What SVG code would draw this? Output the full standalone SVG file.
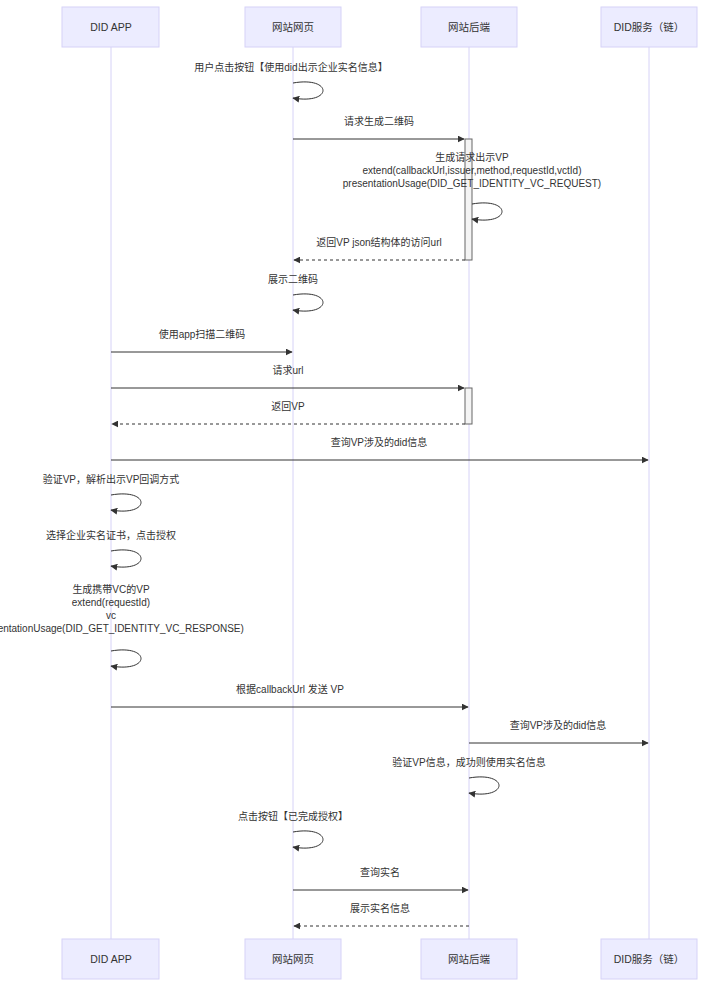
<svg xmlns="http://www.w3.org/2000/svg" width="728" height="988" viewBox="0 0 728 988">
<style>
.box{fill:#ececff;stroke:#d6d2f7;stroke-width:1}
.life{stroke:#d6d2f7;stroke-width:1}
.pt{font-family:"Liberation Sans","Noto Sans CJK SC",sans-serif;font-size:10.5px;fill:#333;text-anchor:middle}
.mt{font-family:"Liberation Sans","Noto Sans CJK SC",sans-serif;font-size:10px;fill:#333;text-anchor:middle}
.m{stroke:#333;stroke-width:1;fill:none}
.d{stroke-dasharray:3,3}
.act{fill:#f4f4f4;stroke:#666;stroke-width:1}
</style>
<defs>
<marker id="a" viewBox="0 0 10 10" refX="9" refY="5" markerWidth="7" markerHeight="7" orient="auto-start-reverse"><path d="M0,0 L10,5 L0,10 z" fill="#333"/></marker>
</defs>
<rect width="728" height="988" fill="#fff"/>
<g id="lifelines">
<line class="life" x1="111" y1="47" x2="111" y2="939"/>
<line class="life" x1="293" y1="47" x2="293" y2="939"/>
<line class="life" x1="469" y1="47" x2="469" y2="939"/>
<line class="life" x1="649" y1="47" x2="649" y2="939"/>
</g>
<g id="p-app"><rect class="box" x="62" y="7" width="97" height="40"/><text class="pt" x="111" y="31">DID APP</text>
<rect class="box" x="62" y="939" width="97" height="40"/><text class="pt" x="111" y="963">DID APP</text></g>
<g id="p-web"><rect class="box" x="245" y="7" width="96" height="40"/><text class="pt" x="293" y="31">网站网页</text>
<rect class="box" x="245" y="939" width="96" height="40"/><text class="pt" x="293" y="963">网站网页</text></g>
<g id="p-back"><rect class="box" x="421" y="7" width="96" height="40"/><text class="pt" x="469" y="31">网站后端</text>
<rect class="box" x="421" y="939" width="96" height="40"/><text class="pt" x="469" y="963">网站后端</text></g>
<g id="p-did"><rect class="box" x="601" y="7" width="96" height="40"/><text class="pt" x="649" y="31">DID服务（链）</text>
<rect class="box" x="601" y="939" width="96" height="40"/><text class="pt" x="649" y="963">DID服务（链）</text></g>
<g id="activations">
<rect class="act" x="465" y="139" width="7" height="121"/>
<rect class="act" x="465" y="388" width="7" height="36"/>
</g>
<g id="connectors">
<text class="mt" x="291" y="71">用户点击按钮【使用did出示企业实名信息】</text>
<path class="m" d="M293,83 C333,76 333,105 293,98" marker-end="url(#a)"/>
<text class="mt" x="379" y="125">请求生成二维码</text>
<line class="m" x1="293" y1="139" x2="464" y2="139" marker-end="url(#a)"/>
<text class="mt" x="472" y="161">生成请求出示VP</text>
<text class="mt" x="472" y="174">extend(callbackUrl,issuer,method,requestId,vctId)</text>
<text class="mt" x="472" y="187">presentationUsage(DID_GET_IDENTITY_VC_REQUEST)</text>
<path class="m" d="M472,204 C512,197 512,226 472,219" marker-end="url(#a)"/>
<text class="mt" x="379" y="246">返回VP json结构体的访问url</text>
<line class="m d" x1="465" y1="260" x2="294" y2="260" marker-end="url(#a)"/>
<text class="mt" x="293" y="283">展示二维码</text>
<path class="m" d="M293,295 C333,288 333,317 293,310" marker-end="url(#a)"/>
<text class="mt" x="202" y="338">使用app扫描二维码</text>
<line class="m" x1="111" y1="352" x2="292" y2="352" marker-end="url(#a)"/>
<text class="mt" x="288" y="374">请求url</text>
<line class="m" x1="111" y1="388" x2="464" y2="388" marker-end="url(#a)"/>
<text class="mt" x="288" y="410">返回VP</text>
<line class="m d" x1="465" y1="424" x2="112" y2="424" marker-end="url(#a)"/>
<text class="mt" x="379" y="446">查询VP涉及的did信息</text>
<line class="m" x1="111" y1="460" x2="648" y2="460" marker-end="url(#a)"/>
<text class="mt" x="111" y="483">验证VP，解析出示VP回调方式</text>
<path class="m" d="M111,495 C151,488 151,517 111,510" marker-end="url(#a)"/>
<text class="mt" x="111" y="539">选择企业实名证书，点击授权</text>
<path class="m" d="M111,551 C151,544 151,573 111,566" marker-end="url(#a)"/>
<text class="mt" x="111" y="593">生成携带VC的VP</text>
<text class="mt" x="111" y="606">extend(requestId)</text>
<text class="mt" x="111" y="619">vc</text>
<text class="mt" x="111" y="632">presentationUsage(DID_GET_IDENTITY_VC_RESPONSE)</text>
<path class="m" d="M111,651 C151,644 151,673 111,666" marker-end="url(#a)"/>
<text class="mt" x="290" y="693">根据callbackUrl 发送 VP</text>
<line class="m" x1="111" y1="707" x2="468" y2="707" marker-end="url(#a)"/>
<text class="mt" x="558" y="729">查询VP涉及的did信息</text>
<line class="m" x1="469" y1="743" x2="648" y2="743" marker-end="url(#a)"/>
<text class="mt" x="469" y="766">验证VP信息，成功则使用实名信息</text>
<path class="m" d="M469,778 C509,771 509,800 469,793" marker-end="url(#a)"/>
<text class="mt" x="293" y="820">点击按钮【已完成授权】</text>
<path class="m" d="M293,832 C333,825 333,854 293,847" marker-end="url(#a)"/>
<text class="mt" x="380" y="876">查询实名</text>
<line class="m" x1="293" y1="890" x2="468" y2="890" marker-end="url(#a)"/>
<text class="mt" x="380" y="912">展示实名信息</text>
<line class="m d" x1="469" y1="926" x2="294" y2="926" marker-end="url(#a)"/>
</g>
</svg>
